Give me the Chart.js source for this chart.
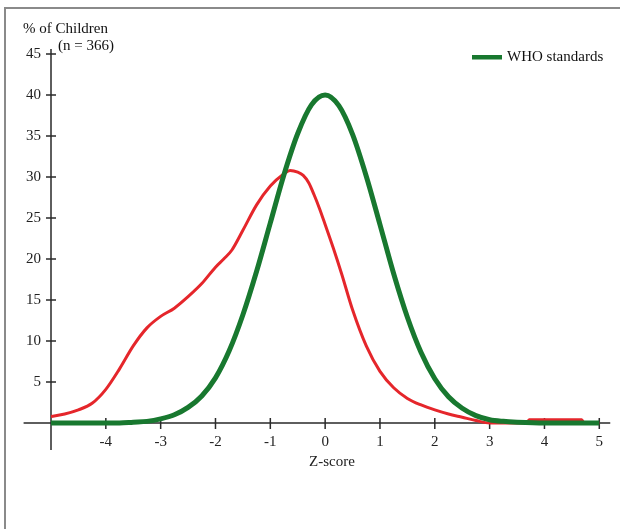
<!DOCTYPE html>
<html>
<head>
<meta charset="utf-8">
<script src="https://cdn.jsdelivr.net/npm/chart.js@4"></script>
<style>
  html, body { margin: 0; padding: 0; background: #fff; }
  #wrap { width: 624px; height: 529px; position: relative; }
</style>
</head>
<body>
<div id="wrap"><canvas id="c" width="624" height="529"></canvas></div>
<script>
// ---- data ----
const studyZ   = [-5.0, -4.75, -4.5, -4.25, -4.0, -3.75, -3.5, -3.25, -3.0, -2.75, -2.5, -2.25, -2.0, -1.85, -1.7, -1.5, -1.25, -1.0, -0.75, -0.64, -0.5, -0.4, -0.3, -0.2, -0.1, 0.0, 0.15, 0.3, 0.5, 0.75, 1.0, 1.25, 1.5, 1.75, 2.0, 2.25, 2.5, 2.75, 3.0, 3.68, 3.72, 4.68, 4.72, 5.0];
const studyPct = [0.8, 1.1, 1.6, 2.4, 4.1, 6.6, 9.4, 11.6, 13.0, 14.0, 15.4, 17.0, 19.0, 20.0, 21.1, 23.5, 26.6, 28.9, 30.4, 30.8, 30.6, 30.2, 29.3, 27.8, 26.1, 24.2, 21.3, 18.2, 13.8, 9.4, 6.3, 4.3, 3.0, 2.2, 1.6, 1.1, 0.7, 0.3, 0.0, 0.0, 0.4, 0.4, 0.0, 0.0];

const whoZ   = [-5.0, -4.5, -4.0, -3.75, -3.5, -3.25, -3.0, -2.75, -2.5, -2.25, -2.0, -1.75, -1.5, -1.25, -1.0, -0.75, -0.5, -0.25, 0.0, 0.25, 0.5, 0.75, 1.0, 1.25, 1.5, 1.75, 2.0, 2.25, 2.5, 2.75, 3.0, 3.25, 3.5, 4.0, 4.5, 5.0];
const whoPct = [0.0, 0.0, 0.0, 0.0, 0.1, 0.2, 0.5, 1.0, 1.9, 3.3, 5.5, 8.8, 13.2, 18.5, 24.4, 30.3, 35.3, 38.8, 40.0, 38.7, 35.2, 30.1, 24.2, 18.2, 12.9, 8.6, 5.4, 3.2, 1.8, 0.9, 0.4, 0.2, 0.1, 0.0, 0.0, 0.0];

const xTickValues = [-5, -4, -3, -2, -1, 0, 1, 2, 3, 4, 5];
const yTickValues = [0, 5, 10, 15, 20, 25, 30, 35, 40, 45];
const seriesNames = ['Study children', 'WHO standards'];

const RED = '#e5262b';
const GREEN = '#18782f';
const FONT = 'Liberation Serif, Times New Roman, serif';

const axesPlugin = {
  id: 'axesPlugin',
  beforeDatasetsDraw(chart) {
    const ctx = chart.ctx;
    const xs = chart.scales.x, ys = chart.scales.y;
    const y0 = ys.getPixelForValue(0);
    const x0 = xs.getPixelForValue(-5);
    ctx.save();
    // frame
    ctx.strokeStyle = '#8a8a8a';
    ctx.lineWidth = 2;
    ctx.beginPath();
    ctx.moveTo(5, 529); ctx.lineTo(5, 8); ctx.lineTo(620, 8);
    ctx.stroke();
    // axes
    ctx.strokeStyle = '#2a2a2a';
    ctx.lineWidth = 1.5;
    ctx.beginPath();
    ctx.moveTo(xs.getPixelForValue(-5.5), y0);
    ctx.lineTo(xs.getPixelForValue(5.2), y0);
    ctx.moveTo(x0, ys.getPixelForValue(45.6));
    ctx.lineTo(x0, ys.getPixelForValue(-3.3));
    ctx.stroke();
    // tick marks
    ctx.beginPath();
    xTickValues.forEach(v => {
      if (v === -5) return;
      const px = xs.getPixelForValue(v);
      ctx.moveTo(px, y0 - 5); ctx.lineTo(px, y0 + 6);
    });
    yTickValues.forEach(v => {
      if (v === 0) return;
      const py = ys.getPixelForValue(v);
      ctx.moveTo(x0 - 5, py); ctx.lineTo(x0 + 5, py);
    });
    ctx.stroke();
    // axis caption
    ctx.fillStyle = '#111';
    ctx.font = '15px ' + FONT;
    ctx.textBaseline = 'middle';
    ctx.textAlign = 'left';
    ctx.fillText('% of Children', 23, 29);
    ctx.fillText('(n = 366)', 58, 46);
    ctx.restore();
  },
  afterDraw(chart) {
    // legend (WHO standards only, as in the reference)
    const ctx = chart.ctx;
    const ds = chart.data.datasets[1];
    ctx.save();
    ctx.fillStyle = ds.borderColor;
    ctx.fillRect(472, 55, 30, 4.5);
    ctx.fillStyle = '#111';
    ctx.font = '15px ' + FONT;
    ctx.textBaseline = 'middle';
    ctx.textAlign = 'left';
    ctx.fillText(ds.label, 507, 57);
    ctx.restore();
  }
};

new Chart(document.getElementById('c'), {
  type: 'line',
  data: {
    datasets: [
      {
        label: seriesNames[0],
        data: studyZ.map((z, i) => ({ x: z, y: studyPct[i] })),
        borderColor: RED,
        backgroundColor: RED,
        borderWidth: 3,
        pointRadius: 0,
        cubicInterpolationMode: 'monotone',
        clip: false,
        order: 2
      },
      {
        label: seriesNames[1],
        data: whoZ.map((z, i) => ({ x: z, y: whoPct[i] })),
        borderColor: GREEN,
        backgroundColor: GREEN,
        borderWidth: 5,
        pointRadius: 0,
        cubicInterpolationMode: 'monotone',
        clip: false,
        order: 1
      }
    ]
  },
  options: {
    responsive: false,
    animation: false,
    events: [],
    layout: { padding: { left: 0, top: 54, right: 11, bottom: 58 } },
    scales: {
      x: {
        type: 'linear',
        min: -5,
        max: 5.25,
        afterBuildTicks: s => { s.ticks = xTickValues.map(v => ({ value: v })); },
        afterFit: s => { s.height = 48; },
        ticks: {
          padding: 10,
          color: '#222',
          font: { family: FONT, size: 15 },
          callback: v => (v === -5 ? '' : String(v))
        },
        grid: { display: false, drawTicks: false },
        border: { display: false },
        title: {
          display: true,
          text: 'Z-score',
          color: '#222',
          font: { family: FONT, size: 15 },
          padding: 0
        }
      },
      y: {
        type: 'linear',
        min: 0,
        max: 45,
        afterBuildTicks: s => { s.ticks = yTickValues.map(v => ({ value: v })); },
        afterFit: s => { s.width = 51; },
        ticks: {
          padding: 10,
          color: '#222',
          font: { family: FONT, size: 15 },
          callback: v => (v === 0 ? '' : String(v))
        },
        grid: { display: false, drawTicks: false },
        border: { display: false }
      }
    },
    plugins: {
      tooltip: { enabled: false },
      legend: { display: false }
    }
  },
  plugins: [axesPlugin]
});
</script>
</body>
</html>
